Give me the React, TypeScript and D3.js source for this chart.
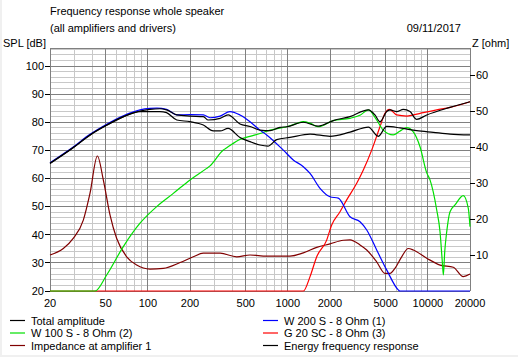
import React from 'react';
import * as d3 from 'd3';

const W = 518, H = 357;
const plotL = 50, plotR = 470, plotT = 48, plotB = 291;

const xTickLabels = [20, 50, 100, 200, 500, 1000, 2000, 5000, 10000, 20000];
const dbTicks = [20, 30, 40, 50, 60, 70, 80, 90, 100];
const zTicks = [10, 20, 30, 40, 50, 60];

const totalAmp: [number, number][] = [
  [20, 65.4], [29.3, 71.0], [38.6, 75.5], [50.8, 79.0], [66.8, 82.0], [87.9, 84.0], [103.6, 84.6],
  [122, 84.8], [136, 84.4], [161, 82.6], [200, 82.2], [249, 82.0], [270, 80.8], [328, 81.4],
  [374, 82.6], [455, 79.4], [537, 78.5], [632, 77.2], [746, 77.0], [877, 78.2], [982, 78.4],
  [1290, 80.0], [1650, 78.6], [2110, 80.6], [2780, 82.0], [3760, 84.4], [4190, 82.6], [4550, 80.2],
  [5080, 83.8], [5370, 84.4], [5990, 83.8], [6680, 84.6], [7460, 83.8], [8320, 81.0], [9820, 82.6],
  [14400, 85.3], [20000, 87.3],
];

const energyResp: [number, number][] = [
  [20, 65.3], [29.3, 70.9], [38.6, 75.4], [50.8, 78.9], [66.8, 81.9], [87.9, 83.8], [103.6, 83.8],
  [122, 83.8], [136, 83.4], [161, 80.8], [200, 80.2], [249, 79.0], [293, 76.9], [328, 76.9],
  [374, 77.8], [455, 74.6], [537, 73.1], [632, 71.9], [721, 71.5], [832, 73.8], [1036, 74.6],
  [1440, 75.8], [2000, 75.0], [2780, 76.5], [3760, 78.3], [4420, 75.0], [5080, 78.5], [6320, 78.0],
  [8320, 77.0], [10940, 76.4], [14400, 75.8], [20000, 75.5],
];

const w200: [number, number][] = [
  [20, 65.6], [29.3, 71.2], [38.6, 75.7], [50.8, 79.3], [66.8, 82.3], [87.9, 84.4], [103.6, 84.9],
  [116, 85.0], [136, 84.6], [161, 82.6], [200, 82.7], [249, 82.6], [278, 81.6], [328, 82.2],
  [386, 83.8], [455, 82.6], [537, 80.2], [632, 77.2], [706, 75.5], [928, 70.1], [1093, 66.6],
  [1290, 64.2], [1440, 61.8], [1697, 56.5], [2000, 53.5], [2292, 53.0], [2780, 46.4], [3276, 44.6],
  [3660, 41.7], [4310, 34.6], [5080, 27.5], [6150, 20.4], [6300, 20], [20000, 20],
];

const w100: [number, number][] = [
  [20, 20], [41.9, 20], [50.8, 25.7], [66.8, 35.8], [87.9, 44.1], [115.6, 50.0], [152, 54.7],
  [200, 59.5], [263, 63.6], [278, 64.5], [346, 70.1], [366, 70.9], [455, 73.9], [537, 75.0],
  [632, 76.0], [746, 77.2], [982, 78.4], [1150, 79.5], [1290, 80.2], [1450, 79.6], [1650, 78.4],
  [2110, 80.6], [2780, 81.4], [3300, 82.6], [3760, 84.4], [4310, 80.8], [4800, 77.2], [5660, 75.5],
  [6300, 76.8], [7060, 78.1], [7870, 76.6], [8790, 71.3], [9820, 62.0], [10360, 59.5], [11570, 48.8],
  [12220, 41.0], [12700, 30.0], [12910, 25.7], [13200, 34.0], [13640, 41.1], [14400, 48.2],
  [15630, 50.6], [17900, 53.9], [19450, 49.4], [20000, 42.9],
];

const g20: [number, number][] = [
  [20, 20], [1290, 20], [1440, 25.1], [1608, 32.2], [1894, 38.1], [2056, 43.5], [2358, 48.2],
  [2632, 52.4], [3104, 58.3], [3460, 63.0], [3970, 70.1], [4550, 78.4], [4940, 83.2], [5310, 84.6],
  [5990, 82.6], [7060, 82.2], [7870, 82.6], [9270, 83.4], [11570, 84.4], [14400, 85.3], [20000, 87.3],
];

const impedance: [number, number][] = [
  [20, 10.0], [24.9, 11.8], [29.3, 14.6], [34.6, 19.7], [38.6, 27.1], [43.6, 37.5], [48.1, 30.8],
  [53.7, 21.1], [59.9, 14.6], [70.6, 9.5], [83.2, 7.2], [103.6, 6.1], [129, 6.3], [170, 7.9],
  [211, 9.5], [249, 10.5], [328, 10.5], [431, 9.5], [537, 10.0], [706, 9.7], [1036, 9.7],
  [1290, 10.6], [1608, 12.1], [2000, 13.1], [2490, 14.1], [2780, 14.2], [3276, 12.8], [3660, 11.4],
  [4310, 8.1], [4940, 4.9], [5370, 4.9], [5820, 6.3], [6500, 9.5], [7250, 11.8], [7870, 11.4],
  [9820, 9.1], [12220, 7.2], [15200, 6.6], [17900, 4.0], [20000, 4.7],
];

const legendItems = [
  { label: 'Total amplitude', color: '#000000', col: 0, row: 0 },
  { label: 'W 200 S - 8 Ohm (1)', color: '#0000ff', col: 1, row: 0 },
  { label: 'W 100 S - 8 Ohm (2)', color: '#00e000', col: 0, row: 1 },
  { label: 'G 20 SC - 8 Ohm (3)', color: '#ff0000', col: 1, row: 1 },
  { label: 'Impedance at amplifier 1', color: '#800000', col: 0, row: 2 },
  { label: 'Energy frequency response', color: '#000000', col: 1, row: 2 },
];

const font = 'Liberation Sans, Arial, sans-serif';

export default function App() {
  const x = d3.scaleLog().domain([20, 20000]).range([plotL, plotR]);
  const y = d3.scaleLinear().domain([20, 106.4]).range([plotB, plotT]);
  const yz = d3.scaleLinear().domain([0, 67.5]).range([plotB, plotT]);

  const lineDb = d3.line<[number, number]>().x(d => x(d[0])).y(d => y(d[1])).curve(d3.curveMonotoneX);
  const lineZ = d3.line<[number, number]>().x(d => x(d[0])).y(d => yz(d[1])).curve(d3.curveMonotoneX);

  const vGrid: { f: number; major: boolean }[] = [];
  for (const dec of [10, 100, 1000, 10000]) {
    for (let k = 1; k <= 9; k++) {
      const f = k * dec;
      if (f >= 20 && f <= 20000) vGrid.push({ f, major: xTickLabels.includes(f) });
    }
  }
  const hGrid: { v: number; major: boolean }[] = [];
  for (let v = 20; v <= 106; v += 2) hGrid.push({ v, major: v % 10 === 0 });

  const legendRowY = [320.5, 333, 345.5];
  const legendColX = [10, 263];

  return (
    <svg width={W} height={H} style={{ position: 'absolute', left: 0, top: 0, background: '#fff' }}
      fontFamily={font} fontSize={11}>
      <rect x={0} y={0} width={W} height={H} fill="#ffffff" />
      <rect x={0} y={0} width={2} height={H} fill="#f0f0f0" />
      <rect x={0} y={H - 2} width={W} height={2} fill="#f0f0f0" />

      <text x={50} y={15}>Frequency response whole speaker</text>
      <text x={50} y={32}>(all amplifiers and drivers)</text>
      <text x={461} y={32} textAnchor="end">09/11/2017</text>
      <text x={3} y={47}>SPL [dB]</text>
      <text x={472} y={47}>Z [ohm]</text>

      {hGrid.filter(g => !g.major).map(g => (
        <line key={'h' + g.v} x1={plotL} x2={plotR} y1={y(g.v)} y2={y(g.v)} stroke="#c8c8c8" strokeWidth={1} shapeRendering="crispEdges" />
      ))}
      {vGrid.filter(g => !g.major).map(g => (
        <line key={'v' + g.f} x1={x(g.f)} x2={x(g.f)} y1={plotT} y2={plotB} stroke="#c8c8c8" strokeWidth={1} shapeRendering="crispEdges" />
      ))}
      {hGrid.filter(g => g.major).map(g => (
        <line key={'H' + g.v} x1={plotL} x2={plotR} y1={y(g.v)} y2={y(g.v)} stroke="#808080" strokeWidth={1} shapeRendering="crispEdges" />
      ))}
      {vGrid.filter(g => g.major).map(g => (
        <line key={'V' + g.f} x1={x(g.f)} x2={x(g.f)} y1={plotT} y2={plotB} stroke="#808080" strokeWidth={1} shapeRendering="crispEdges" />
      ))}
      <line x1={plotL} x2={plotR} y1={plotT} y2={plotT} stroke="#808080" shapeRendering="crispEdges" />

      {dbTicks.map(v => (
        <g key={'dt' + v}>
          <line x1={plotL - 5} x2={plotL} y1={y(v)} y2={y(v)} stroke="#000" shapeRendering="crispEdges" />
          <text x={plotL - 6} y={y(v)} dy="0.35em" textAnchor="end">{v}</text>
        </g>
      ))}
      {zTicks.map(v => (
        <g key={'zt' + v}>
          <line x1={plotR} x2={plotR + 5} y1={yz(v)} y2={yz(v)} stroke="#000" shapeRendering="crispEdges" />
          <text x={plotR + 6} y={yz(v)} dy="0.35em">{v}</text>
        </g>
      ))}
      {xTickLabels.map(f => (
        <text key={'xt' + f} x={x(f)} y={307} textAnchor="middle">{f}</text>
      ))}

      <g fill="none" strokeWidth={1.2} strokeLinejoin="round">
        <path d={lineZ(impedance) || ''} stroke="#800000" />
        <path d={lineDb(g20) || ''} stroke="#ff0000" />
        <path d={lineDb(w100) || ''} stroke="#00e000" />
        <path d={lineDb(w200) || ''} stroke="#0000ff" />
        <path d={lineDb(energyResp) || ''} stroke="#000000" />
        <path d={lineDb(totalAmp) || ''} stroke="#000000" />
      </g>

      {legendItems.map(it => (
        <g key={it.label}>
          <line x1={legendColX[it.col]} x2={legendColX[it.col] + 15} y1={legendRowY[it.row]} y2={legendRowY[it.row]}
            stroke={it.color} strokeWidth={1.2} />
          <text x={legendColX[it.col] + 21} y={legendRowY[it.row] + 4}>{it.label}</text>
        </g>
      ))}
    </svg>
  );
}
